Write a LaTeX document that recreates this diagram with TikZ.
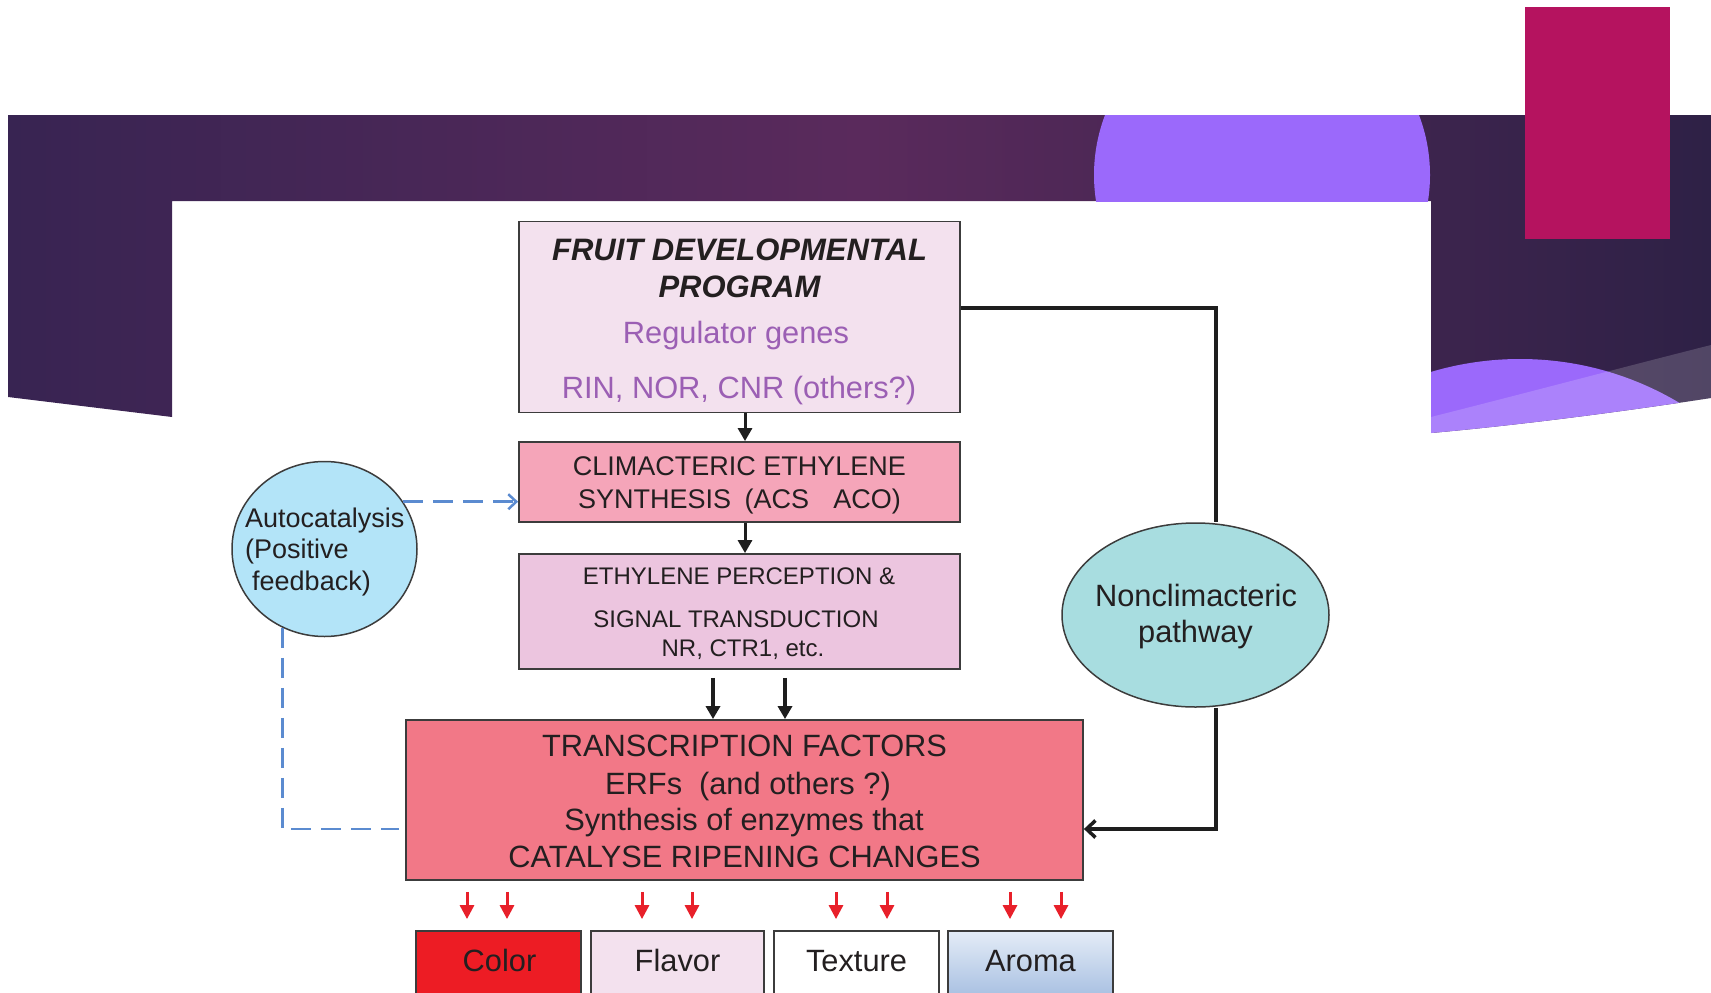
\documentclass[tikz,border=0pt]{standalone}
\usepackage{fontspec}
\setmainfont{Liberation Sans}
\usetikzlibrary{shapes.geometric,arrows.meta}
\definecolor{banL}{RGB}{56,36,82}
\definecolor{banM}{RGB}{90,42,92}
\definecolor{banR}{RGB}{46,33,70}
\definecolor{lav}{RGB}{155,105,251}
\definecolor{mag}{RGB}{181,19,95}
\definecolor{bord}{RGB}{60,60,60}
\definecolor{txtc}{RGB}{35,31,32}
\definecolor{purp}{RGB}{155,95,180}
\definecolor{boxA}{RGB}{243,225,238}
\definecolor{boxB}{RGB}{245,165,185}
\definecolor{boxC}{RGB}{236,197,223}
\definecolor{boxD}{RGB}{242,120,135}
\definecolor{colC}{RGB}{237,28,36}
\definecolor{aroT}{RGB}{228,236,247}
\definecolor{aroB}{RGB}{164,189,224}
\definecolor{autoC}{RGB}{179,228,248}
\definecolor{ncpC}{RGB}{168,221,224}
\definecolor{blu}{RGB}{91,139,208}
\definecolor{redc}{RGB}{232,32,42}
\definecolor{arrc}{RGB}{30,30,30}
\begin{document}
\begin{tikzpicture}[x=1pt,y=-1pt,
  box/.style={draw=bord, line width=1.8pt, rectangle, inner sep=0pt},
  txt/.style={text=txtc, inner sep=0pt, anchor=base},
  blkarr/.style={draw=arrc, line width=3.5pt, -{Triangle[length=13pt,width=14pt]}},
  redarr/.style={draw=redc, line width=3pt, -{Triangle[length=14pt,width=14pt]}},
  dashb/.style={draw=blu, line width=2.5pt, dash pattern=on 20pt off 10pt},
  fA/.style={font=\fontsize{30.8}{36}\selectfont},
  fB/.style={font=\fontsize{27}{32}\selectfont},
  fC/.style={font=\fontsize{24}{29}\selectfont}]
\useasboundingbox (0,0) rectangle (1711,993);
% decorative banner
\shade[left color=banL, right color=banR, middle color=banM]
  (8,115) -- (1711,115) -- (1711,398) .. controls (1620,412) and (1520,425) .. (1431,433)
  -- (1431,201) -- (172,201) -- (172,417) -- (8,397) -- cycle;
\begin{scope}
  \clip (8,115) rectangle (1431,201);
  \fill[lav] (1262,175) circle[radius=168pt];
\end{scope}
\begin{scope}
  \clip (1431,115) -- (1711,115) -- (1711,398) .. controls (1620,412) and (1520,425) .. (1431,433) -- cycle;
  \fill[lav] (1520,670) circle[radius=311pt];
  \fill[white, opacity=0.17] (1431,417) .. controls (1530,392) and (1620,368) .. (1711,345) -- (1711,440) -- (1431,450) -- cycle;
\end{scope}
\fill[mag] (1525,7) rectangle (1670,239);

% boxes
\node[box, fill=boxA, minimum width=441pt, minimum height=191pt] (fdp) at (739.5,317) {};
\node[box, fill=boxB, minimum width=441pt, minimum height=80pt] (ces) at (739.5,482) {};
\node[box, fill=boxC, minimum width=441pt, minimum height=115pt] (eps) at (739.5,611.5) {};
\node[box, fill=boxD, minimum width=677pt, minimum height=160pt] (tf) at (744.5,800) {};
\node[box, fill=colC, minimum width=165pt, minimum height=70pt] (colb) at (498.5,966) {};
\node[box, fill=boxA, minimum width=173pt, minimum height=70pt] (flab) at (677.5,966) {};
\node[box, fill=white, minimum width=165pt, minimum height=70pt] (texb) at (856.5,966) {};
\node[box, top color=aroT, bottom color=aroB, minimum width=165pt, minimum height=70pt] (arob) at (1030.5,966) {};
\node[ellipse, draw=bord, line width=1.5pt, fill=autoC, minimum width=185pt, minimum height=175pt, inner sep=0pt] (auto) at (324.5,549) {};
\node[ellipse, draw=bord, line width=1.5pt, fill=ncpC, minimum width=267pt, minimum height=184pt, inner sep=0pt] (ncp) at (1195.5,615) {};

% texts
\node[txt, font=\bfseries\itshape\fontsize{31}{36}\selectfont] (t1) at (739.5,260) {FRUIT DEVELOPMENTAL};
\node[txt, font=\bfseries\itshape\fontsize{31}{36}\selectfont] (t2) at (739.5,297) {PROGRAM};
\node[txt, fA, text=purp] (t3) at (736,343) {Regulator genes};
\node[txt, fA, text=purp] (t4) at (739,398) {RIN, NOR, CNR (others?)};
\node[txt, fB] (t5) at (739.5,475) {CLIMACTERIC ETHYLENE};
\node[txt, fB] (t6) at (739.5,508) {SYNTHESIS\hspace{0.5em}(ACS\hspace{0.9em}ACO)};
\node[txt, fC] (t7) at (739,584) {ETHYLENE PERCEPTION \&};
\node[txt, fC] (t8) at (736,627) {SIGNAL TRANSDUCTION};
\node[txt, fC] (t9) at (743,656) {NR, CTR1, etc.};
\node[txt, fA] (t10) at (744.5,756) {TRANSCRIPTION FACTORS};
\node[txt, fA] (t11) at (748,794) {ERFs\hspace{0.55em}(and others ?)};
\node[txt, fA] (t12) at (744,830) {Synthesis of enzymes that};
\node[txt, fA] (t13) at (744.5,867) {CATALYSE RIPENING CHANGES};
\node[txt, fA] (t14) at (499.5,971) {Color};
\node[txt, fA] (t15) at (677.5,971) {Flavor};
\node[txt, fA] (t16) at (856.5,971) {Texture};
\node[txt, fA] (t17) at (1030.5,971) {Aroma};
\node[txt, fB, anchor=base west] (t18) at (245,527) {Autocatalysis};
\node[txt, fB, anchor=base west] (t19) at (245,558) {(Positive};
\node[txt, fB, anchor=base west] (t20) at (252,590) {feedback)};
\node[txt, fA] (t21) at (1196,606) {Nonclimacteric};
\node[txt, fA] (t22) at (1195.5,642) {pathway};

% connectors
\draw[blkarr, line width=3pt] (745,0 |- fdp.south) -- (745,0 |- ces.north);
\draw[blkarr, line width=3pt] (745,0 |- ces.south) -- (745,0 |- eps.north);
\draw[blkarr, shorten <=8pt] (713,0 |- eps.south) -- (713,0 |- tf.north);
\draw[blkarr, shorten <=8pt] (785,0 |- eps.south) -- (785,0 |- tf.north);
\foreach \xx/\tgt in {467/colb, 507/colb, 642/flab, 692/flab, 836/texb, 887/texb, 1010/arob, 1061/arob}
  \draw[redarr, shorten <=11pt, shorten >=11pt] (\xx,0 |- tf.south) -- (\xx,0 |- \tgt.north);
\draw[dashb, -{Straight Barb[length=8pt,width=15pt]}] (auto.31) -- (auto.31 -| ces.west);
\draw[dashb] (auto.242) |- ([xshift=-6pt,yshift=-29pt]tf.west);
\draw[draw=arrc, line width=3.5pt] ([yshift=9pt]fdp.east) -| (1216,0 |- ncp.north);
\draw[draw=arrc, line width=3.5pt, -{Straight Barb[length=9pt,width=17pt]}] (1216,0 |- ncp.south) |- ([yshift=-29pt]tf.east);
\end{tikzpicture}
\end{document}
